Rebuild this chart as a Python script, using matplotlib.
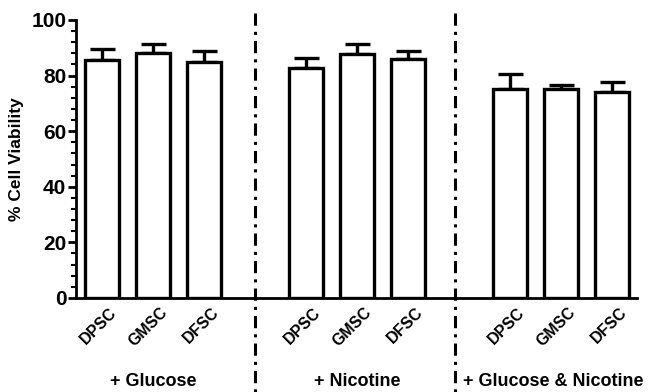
import numpy as np
import matplotlib.pyplot as plt
from matplotlib.ticker import MultipleLocator
from matplotlib.transforms import ScaledTranslation

plt.rcParams['font.family'] = ['Liberation Sans', 'DejaVu Sans']
plt.rcParams['font.weight'] = 'bold'

cells = ['DPSC', 'GMSC', 'DFSC']
groups = ['+ Glucose', '+ Nicotine', '+ Glucose & Nicotine']
group_x = [1, 5, 8.85]

# mean viability and upper error (SD) per group, in order DPSC, GMSC, DFSC
glucose = [85.5, 88.0, 84.8]
glucose_err = [4.2, 3.5, 3.9]
nicotine = [82.9, 87.6, 86.1]
nicotine_err = [3.3, 3.6, 2.9]
gluc_nic = [75.1, 75.1, 74.1]
gluc_nic_err = [5.3, 1.5, 3.7]

means = glucose + nicotine + gluc_nic
errs = glucose_err + nicotine_err + gluc_nic_err

pos = np.array([0, 1, 2, 4, 5, 6, 8, 9, 10])

fig = plt.figure(figsize=(6.5, 3.92), dpi=100)
ax = fig.add_axes([0.117, 0.240, 0.863, 0.709])

ax.bar(pos, means, width=0.67, color='white', edgecolor='black', linewidth=2.4, zorder=2)
ax.errorbar(pos, means, yerr=[np.zeros(len(errs)), errs], fmt='none', ecolor='black',
            elinewidth=2.4, capsize=9, capthick=2.4, zorder=1)

ax.set_xlim(-0.51, 10.49)
ax.set_ylim(0, 100)
ax.yaxis.set_major_locator(MultipleLocator(20))
ax.yaxis.set_minor_locator(MultipleLocator(4))
ax.tick_params(axis='y', which='major', length=6, width=2, labelsize=15, pad=1)
ax.tick_params(axis='y', which='minor', length=3.5, width=1.5)
ax.tick_params(axis='x', length=0, pad=5)
ax.set_xticks(pos)
ax.set_xticklabels(cells * 3, rotation=45, ha='right', va='top', rotation_mode='anchor',
                   fontsize=11.5, fontweight='bold')
shift = ScaledTranslation(7 / 100, 0, fig.dpi_scale_trans)
for lab in ax.get_xticklabels():
    lab.set_transform(lab.get_transform() + shift)

for side in ['top', 'right']:
    ax.spines[side].set_visible(False)
for side in ['left', 'bottom']:
    ax.spines[side].set_linewidth(2)

ax.set_ylabel('% Cell Viability', fontsize=12.5, fontweight='bold', labelpad=5)

trans = ax.get_xaxis_transform()
for xd in [3, 6.92]:
    ax.plot([xd, xd], [1.025, -0.34], transform=trans, color='black', linewidth=2.2,
            linestyle=(0, (4, 2, 1, 2)), clip_on=False)

for xc, g in zip(group_x, groups):
    ax.text(xc, -0.30, g, transform=trans, ha='center', va='center', fontsize=13,
            fontweight='bold')

fig.savefig('out.png', dpi=100)
